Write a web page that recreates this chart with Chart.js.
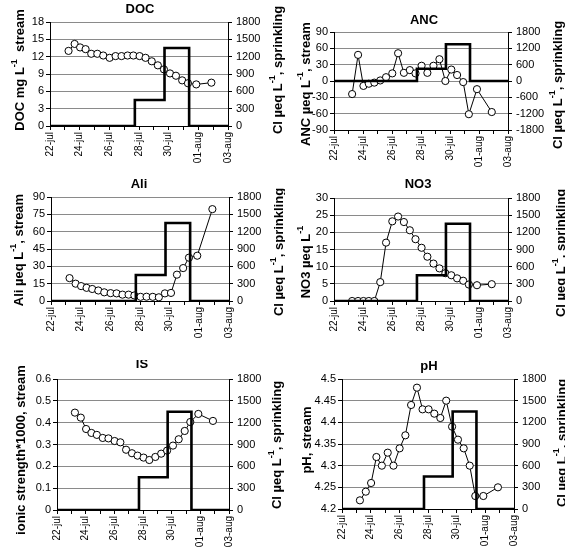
<!DOCTYPE html>
<html>
<head>
<meta charset="utf-8">
<title>Stream chemistry and Cl sprinkling</title>
<script src="https://cdn.jsdelivr.net/npm/chart.js"></script>
<style>
  body { margin: 0; background: #fff; }
  #wrap { position: relative; width: 565px; height: 548px; overflow: hidden; }
  #wrap canvas { position: absolute; }
</style>
</head>
<body>
<div id="wrap"></div>
<script>
// days after 22-jul for every stream sample
var sampleDays = [1.25, 1.66, 2.03, 2.4, 2.78, 3.19, 3.59, 4.02, 4.42, 4.82, 5.23, 5.62,
                  6.04, 6.44, 6.86, 7.27, 7.68, 8.09, 8.49, 8.91, 9.3, 9.86, 10.88];

var docValues = [13.0, 14.2, 13.6, 13.3, 12.5, 12.5, 12.2, 11.8, 12.1, 12.1, 12.2, 12.2,
                 12.1, 11.8, 11.2, 10.5, 9.8, 9.1, 8.7, 7.9, 7.4, 7.2, 7.5];
var ancValues = [-24, 48, -9, -5, -3, 1, 7, 14, 51, 15, 20, 14,
                 28, 15, 28, 40, 0, 21, 11, -2, -61, -15, -57];
var aliValues = [19.8, 15, 12.9, 11.4, 10.4, 9.1, 7.5, 6.8, 6.6, 5.5, 5.5, 4.8,
                 3.6, 3.7, 3.6, 3.2, 6.6, 7, 22.8, 28.5, 37.5, 39.2, 79.5];
var no3Values = [0, 0, 0, 0, 0, 5.5, 17, 23.2, 24.6, 23, 20.6, 18,
                 15.5, 12.9, 10.9, 9.5, 8.1, 7.5, 6.6, 5.9, 4.8, 4.6, 4.9];
var isValues = [0.446, 0.423, 0.371, 0.353, 0.344, 0.33, 0.328, 0.316, 0.31, 0.276, 0.26, 0.249,
                0.24, 0.229, 0.243, 0.258, 0.272, 0.295, 0.324, 0.362, 0.403, 0.44, 0.408];
var phValues = [4.22, 4.24, 4.26, 4.32, 4.30, 4.33, 4.30, 4.34, 4.37, 4.44, 4.48, 4.43,
                4.43, 4.42, 4.41, 4.45, 4.39, 4.36, 4.34, 4.30, 4.23, 4.23, 4.25];

// Cl sprinkling (ueq/L), step changes
var stepDays = [0, 5.72, 7.72, 9.38, 12];
var stepCl = [0, 450, 1350, 0, 0];

var dateLabels = ['22-jul', '24-jul', '26-jul', '28-jul', '30-jul', '01-aug', '03-aug'];

var clLabel = ['Cl \u00b5eq L', '-1', ', sprinkling'];

// page layout: box = canvas [left, top, w, h], area = plot [left, top, right, bottom]
var panels = [
  { title: 'DOC', values: docValues, y: [0, 18, 3], cl: [0, 1800, 300],
    box: [0, 0, 285, 175], area: [50, 22, 228, 126], titlePos: [140, 9],
    left: ['DOC mg L', '-1', '  stream'], leftPos: [20, 70], rightPos: [278, 70] },
  { title: 'ANC', values: ancValues, y: [-90, 90, 30], cl: [-1800, 1800, 600],
    box: [285, 0, 280, 175], area: [334, 32, 508, 130], titlePos: [424, 20],
    left: ['ANC \u00b5eq L', '-1', ', stream'], leftPos: [306, 84], rightPos: [558, 85] },
  { title: 'Ali', values: aliValues, y: [0, 90, 15], cl: [0, 1800, 300],
    box: [0, 175, 285, 185], area: [51, 197, 229, 301], titlePos: [139, 184],
    left: ['Ali \u00b5eq L', '-1', ', stream'], leftPos: [19, 250], rightPos: [279, 252] },
  { title: 'NO3', values: no3Values, y: [0, 30, 5], cl: [0, 1800, 300],
    box: [285, 175, 280, 185], area: [334, 198, 508, 301], titlePos: [418, 184],
    left: ['NO3 \u00b5eq L', '-1', ''], leftPos: [306, 262], rightPos: [561, 253] },
  { title: 'IS', values: isValues, y: [0, 0.6, 0.1], cl: [0, 1800, 300],
    box: [0, 360, 285, 188], area: [57, 379, 229, 510], titlePos: [142, 364],
    left: ['ionic strength*1000, stream'], leftPos: [21, 450], rightPos: [277, 445] },
  { title: 'pH', values: phValues, y: [4.2, 4.5, 0.05], cl: [0, 1800, 300],
    box: [285, 360, 280, 188], area: [342, 379, 514, 509], titlePos: [429, 366],
    left: ['pH, stream'], leftPos: [307, 440], rightPos: [562, 443] }
];

var FONT = '"Liberation Sans", Arial, sans-serif';

function fmt(v) {
  return String(Math.round(v * 1000) / 1000);
}

// draws a rotated label; odd entries of segs are superscripts
function drawRotated(ctx, segs, cx, cy) {
  ctx.save();
  ctx.translate(cx, cy);
  ctx.rotate(-Math.PI / 2);
  ctx.fillStyle = '#000';
  ctx.textBaseline = 'middle';
  ctx.textAlign = 'left';
  var total = 0;
  segs.forEach(function (s, i) {
    ctx.font = (i % 2 ? 'bold 9px ' : 'bold 13px ') + FONT;
    total += ctx.measureText(s).width;
  });
  var x = -total / 2;
  segs.forEach(function (s, i) {
    ctx.font = (i % 2 ? 'bold 9px ' : 'bold 13px ') + FONT;
    ctx.fillText(s, x, i % 2 ? -5 : 0);
    x += ctx.measureText(s).width;
  });
  ctx.restore();
}

var panelText = {
  id: 'panelText',
  afterDraw: function (chart) {
    var p = chart.options.plugins.panelText;
    var ctx = chart.ctx;
    ctx.save();
    ctx.fillStyle = '#000';
    ctx.font = 'bold 13px ' + FONT;
    ctx.textAlign = 'center';
    ctx.textBaseline = 'middle';
    ctx.fillText(p.title, p.titlePos[0], p.titlePos[1]);
    ctx.restore();
    drawRotated(ctx, p.left, p.leftPos[0], p.leftPos[1]);
    drawRotated(ctx, clLabel, p.rightPos[0], p.rightPos[1]);
  }
};

var wrap = document.getElementById('wrap');

panels.forEach(function (p) {
  var bx = p.box[0], by = p.box[1], bw = p.box[2], bh = p.box[3];
  var canvas = document.createElement('canvas');
  canvas.width = bw;
  canvas.height = bh;
  canvas.style.left = bx + 'px';
  canvas.style.top = by + 'px';
  wrap.appendChild(canvas);

  var leftW = p.area[0] - bx;
  var topPad = p.area[1] - by;
  var rightW = bx + bw - p.area[2];
  var bottomH = by + bh - p.area[3];

  new Chart(canvas.getContext('2d'), {
    type: 'line',
    data: {
      datasets: [
        {
          // sprinkling step line, drawn on top
          data: stepDays.map(function (d, i) { return { x: d, y: stepCl[i] }; }),
          yAxisID: 'y2',
          stepped: true,
          borderColor: '#000',
          borderWidth: 2.6,
          pointRadius: 0,
          fill: false,
          order: 0
        },
        {
          data: sampleDays.map(function (d, i) { return { x: d, y: p.values[i] }; }),
          yAxisID: 'y',
          borderColor: '#000',
          borderWidth: 1,
          pointRadius: 3.6,
          pointBackgroundColor: '#fff',
          pointBorderColor: '#000',
          pointBorderWidth: 1,
          tension: 0,
          fill: false,
          order: 1
        }
      ]
    },
    options: {
      responsive: false,
      animation: false,
      devicePixelRatio: 1,
      layout: { padding: { top: topPad, left: 0, right: 0, bottom: 0 } },
      plugins: {
        legend: { display: false },
        tooltip: { enabled: false },
        title: { display: false },
        panelText: {
          title: p.title,
          titlePos: [p.titlePos[0] - bx, p.titlePos[1] - by],
          left: p.left,
          leftPos: [p.leftPos[0] - bx, p.leftPos[1] - by],
          rightPos: [p.rightPos[0] - bx, p.rightPos[1] - by]
        }
      },
      scales: {
        x: {
          type: 'linear',
          min: 0,
          max: 12,
          afterFit: function (s) { s.height = bottomH; },
          ticks: {
            stepSize: 1,
            autoSkip: false,
            minRotation: 90,
            maxRotation: 90,
            padding: 2,
            color: '#000',
            font: { family: FONT, size: 10 },
            callback: function (v) {
              var d = Math.round(v);
              return d % 2 === 0 ? dateLabels[d / 2] : '';
            }
          },
          grid: { drawOnChartArea: false, tickLength: 4, tickColor: '#000' },
          border: { color: '#000', width: 1 }
        },
        y: {
          position: 'left',
          min: p.y[0],
          max: p.y[1],
          afterFit: function (s) { s.width = leftW; },
          ticks: {
            stepSize: p.y[2],
            padding: 2,
            color: '#000',
            font: { family: FONT, size: 11 },
            callback: fmt
          },
          grid: { color: '#8a8a8a', tickColor: '#000', tickLength: 4 },
          border: { color: '#000', width: 1 }
        },
        y2: {
          position: 'right',
          min: p.cl[0],
          max: p.cl[1],
          afterFit: function (s) { s.width = rightW; },
          ticks: {
            stepSize: p.cl[2],
            padding: 4,
            color: '#000',
            font: { family: FONT, size: 11 },
            callback: fmt
          },
          grid: { drawOnChartArea: false, tickColor: '#000', tickLength: 4 },
          border: { color: '#000', width: 1 }
        }
      }
    },
    plugins: [panelText]
  });
});
</script>
</body>
</html>
